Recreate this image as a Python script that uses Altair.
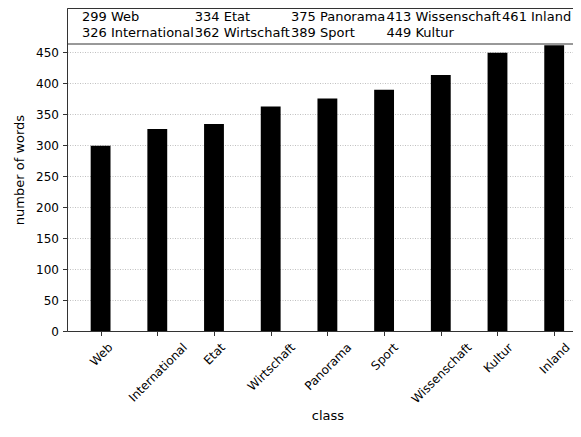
import json
import altair as alt
import pandas as pd

# ---- data ----
categories = ["Web", "International", "Etat", "Wirtschaft", "Panorama",
              "Sport", "Wissenschaft", "Kultur", "Inland"]
word_counts = [299, 326, 334, 362, 375, 389, 413, 449, 461]
y_ticks = [0, 50, 100, 150, 200, 250, 300, 350, 400, 450]

legend_labels = [f"{n} {c}" for n, c in zip(word_counts, categories)]

df = pd.DataFrame({
    "idx": list(range(len(categories))),
    "category": categories,
    "words": word_counts,
})

# ---- layout ----
STEP = 56.7            # px per category
X0 = -0.5925           # left end of x domain (category units)
PLOT_W = 506
X1 = X0 + PLOT_W / STEP
BAR_W = 0.35
PLOT_H = 323
Y_MAX = 521
PPU = PLOT_H / Y_MAX   # px per word
TICK_FS = 12
LEG_FS = 13
FONT = "DejaVu Sans"

# DejaVu Sans advance widths (em) – used for text layout
ADV = {"W": .989, "e": .615, "b": .635, "I": .295, "n": .634, "t": .392,
       "r": .411, "a": .613, "i": .278, "o": .612, "l": .278, "E": .632,
       "P": .603, "m": .974, "S": .635, "p": .635, "s": .521, "c": .550,
       "h": .634, "f": .352, "K": .656, "u": .634, "d": .635, " ": .318}
ADV.update({str(d): .636 for d in range(10)})


def text_w(s, size):
    return sum(ADV.get(ch, 0.6) for ch in s) * size


# rotated tick labels: anchor the label end like matplotlib's centred labels
offsets = [round(0.354 * text_w(c, TICK_FS), 1) for c in categories]
label_offset = {
    "condition": [{"test": f"datum.value === {i}", "value": o}
                  for i, o in enumerate(offsets)],
    "value": 0,
}

# legend: 2 rows x 5 columns, filled column by column
N_ROWS = 2
LEG_PAD_X = 15
LEG_GAP = 0.6
LEG_ROW_Y = [8.5, 25]
n_cols = (len(legend_labels) + N_ROWS - 1) // N_ROWS
col_w = [max(text_w(legend_labels[k], LEG_FS)
             for k in range(c * N_ROWS, min((c + 1) * N_ROWS, len(legend_labels))))
         for c in range(n_cols)]
col_x = [LEG_PAD_X + sum(col_w[:c]) + LEG_GAP * c for c in range(n_cols)]
legend_df = pd.DataFrame({
    "text": legend_labels,
    "lx": [X0 + col_x[k // N_ROWS] / STEP for k in range(len(legend_labels))],
    "ly": [Y_MAX - LEG_ROW_Y[k % N_ROWS] / PPU for k in range(len(legend_labels))],
})

x_scale = alt.Scale(domain=[X0, X1], nice=False, zero=False)
y_scale = alt.Scale(domain=[0, Y_MAX], nice=False)

x_axis = alt.Axis(
    values=list(range(len(categories))),
    labelExpr=f"{json.dumps(categories)}[datum.value]",
    labelAngle=-45, labelAlign="right", labelBaseline="middle",
    labelPadding=9.4, labelOffset=label_offset,
    labelOverlap=False, labelFlush=False, labelBound=False, labelLimit=0,
    labelFontSize=TICK_FS, tickSize=4.5, grid=False,
    title="class", titleFontSize=13, titlePadding=5,
    titleX=round(9.185 * STEP / 2, 1),
)

y_axis = alt.Axis(
    values=y_ticks, labelFontSize=TICK_FS, tickSize=4.5, labelPadding=4,
    grid=True, gridColor="#b0b0b0", gridDash=[1, 1.5], gridWidth=0.8,
    title="number of words", titleFontSize=13, titlePadding=9,
)

bars = alt.Chart(df).transform_calculate(
    x0=f"datum.idx - {BAR_W / 2}", x1=f"datum.idx + {BAR_W / 2}"
).mark_bar(color="black").encode(
    x=alt.X("x0:Q", scale=x_scale, axis=x_axis),
    x2="x1:Q",
    y=alt.Y("words:Q", scale=y_scale, axis=y_axis),
    y2=alt.datum(0),
)

legend_box = alt.Chart(pd.DataFrame({"box": [0]})).mark_rect(
    fill="white", stroke="#333", strokeWidth=1
).encode(
    x=alt.value(0.5), x2=alt.value(PLOT_W + 10),
    y=alt.value(0.5), y2=alt.value(36),
)

legend_text = alt.Chart(legend_df).mark_text(
    align="left", baseline="middle", fontSize=LEG_FS, font=FONT, color="black"
).encode(
    x=alt.X("lx:Q", scale=x_scale, axis=x_axis),
    y=alt.Y("ly:Q", scale=y_scale, axis=y_axis),
    text="text:N",
)

chart = alt.layer(bars, legend_box, legend_text).properties(
    width=PLOT_W, height=PLOT_H,
    autosize=alt.AutoSizeParams(type="none"),
    padding={"left": 59, "top": 0, "right": 0, "bottom": 93},
).configure_view(
    strokeWidth=0
).configure_axis(
    labelFont=FONT, titleFont=FONT, labelColor="black", titleColor="black",
    titleFontWeight="normal", domainColor="#333", tickColor="#333",
    domainWidth=1, tickWidth=1,
)

chart.save("out.html", embed_options={"renderer": "svg", "actions": False})
